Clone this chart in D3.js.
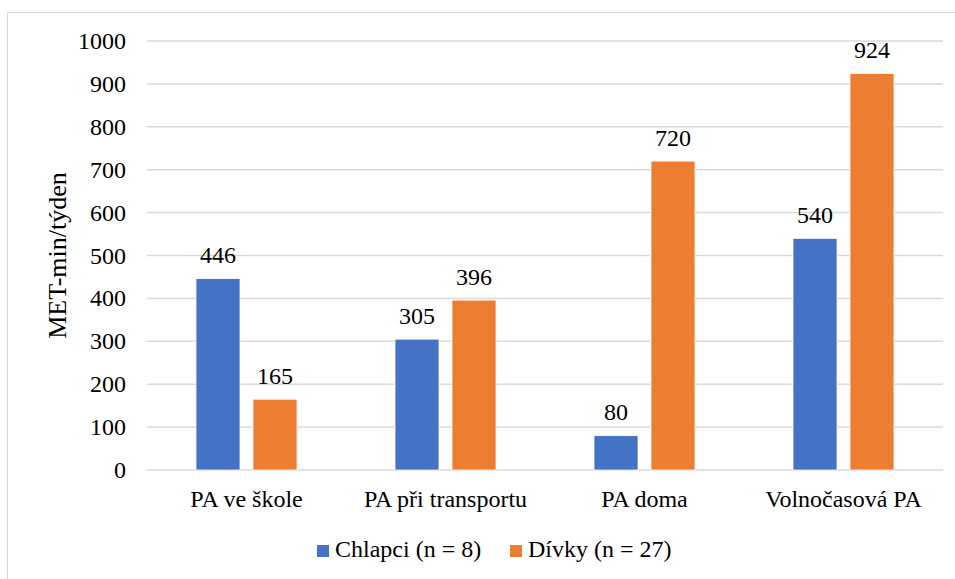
<!DOCTYPE html>
<html>
<head>
<meta charset="utf-8">
<script src="https://cdn.jsdelivr.net/npm/d3@7"></script>
<style>
  html, body { margin: 0; padding: 0; background: #fff; }
  svg { display: block; }
  svg text { font-family: "Liberation Serif", "DejaVu Serif", serif; }
</style>
</head>
<body>
<svg id="chart" width="955" height="579"></svg>
<script>
const categories = ["PA ve škole", "PA při transportu", "PA doma", "Volnočasová PA"];
const seriesNames = ["Chlapci (n = 8)", "Dívky (n = 27)"];
const chlapci = [446, 305, 80, 540];
const divky = [165, 396, 720, 924];
const yTicks = [0, 100, 200, 300, 400, 500, 600, 700, 800, 900, 1000];
const colors = ["#4472C4", "#ED7D31"];
const yTitle = "MET-min/týden";

const values = [chlapci, divky];
const svg = d3.select("#chart");
const FS = "24px";

// chart border
svg.append("rect").attr("x", 7.5).attr("y", 12.5).attr("width", 960).attr("height", 600)
  .attr("fill", "none").attr("stroke", "#d9d9d9").attr("stroke-width", 1);

const plot = { left: 147, right: 943, top: 41, bottom: 470 };

const y = d3.scaleLinear().domain([0, 1000]).range([plot.bottom, plot.top]);
const x0 = d3.scaleBand().domain(categories).range([plot.left, plot.right]);
const x1 = d3.scaleBand().domain(seriesNames).range([0, x0.bandwidth()])
  .paddingInner(13 / 57).paddingOuter(0.86);

// gridlines
svg.append("g").selectAll("line").data(yTicks).join("line")
  .attr("x1", plot.left).attr("x2", plot.right)
  .attr("y1", d => y(d)).attr("y2", d => y(d))
  .attr("stroke", "#d9d9d9").attr("stroke-width", 1.5);

// y tick labels
svg.append("g").selectAll("text").data(yTicks).join("text")
  .attr("x", 126).attr("y", d => y(d) + 8)
  .attr("text-anchor", "end").style("font-size", FS)
  .text(d => d);

// y title
svg.append("text")
  .attr("transform", `translate(66, ${(plot.top + plot.bottom) / 2}) rotate(-90)`)
  .attr("text-anchor", "middle").style("font-size", "26px")
  .text(yTitle);

// bars
const groups = svg.append("g").selectAll("g").data(categories).join("g")
  .attr("transform", d => `translate(${x0(d)},0)`);

groups.each(function(cat, ci) {
  const g = d3.select(this);
  seriesNames.forEach((s, si) => {
    const v = values[si][ci];
    g.append("rect")
      .attr("x", x1(s)).attr("y", y(v))
      .attr("width", x1.bandwidth()).attr("height", y(0) - y(v))
      .attr("fill", colors[si]).attr("stroke", "#fff").attr("stroke-width", 0.75);
    g.append("text")
      .attr("x", x1(s) + x1.bandwidth() / 2).attr("y", y(v) - 15.5)
      .attr("text-anchor", "middle").style("font-size", FS)
      .text(v);
  });
});

// category labels
svg.append("g").selectAll("text").data(categories).join("text")
  .attr("x", d => x0(d) + x0.bandwidth() / 2).attr("y", 507)
  .attr("text-anchor", "middle").style("font-size", FS)
  .text(d => d);

// legend
const legendX = [317, 510];
const legend = svg.append("g").selectAll("g").data(seriesNames).join("g")
  .attr("transform", (d, i) => `translate(${legendX[i]}, 545)`);
legend.append("rect").attr("width", 12).attr("height", 12)
  .attr("fill", (d, i) => colors[i]);
legend.append("text").attr("x", 18).attr("y", 12).style("font-size", FS)
  .text(d => d);
</script>
</body>
</html>
